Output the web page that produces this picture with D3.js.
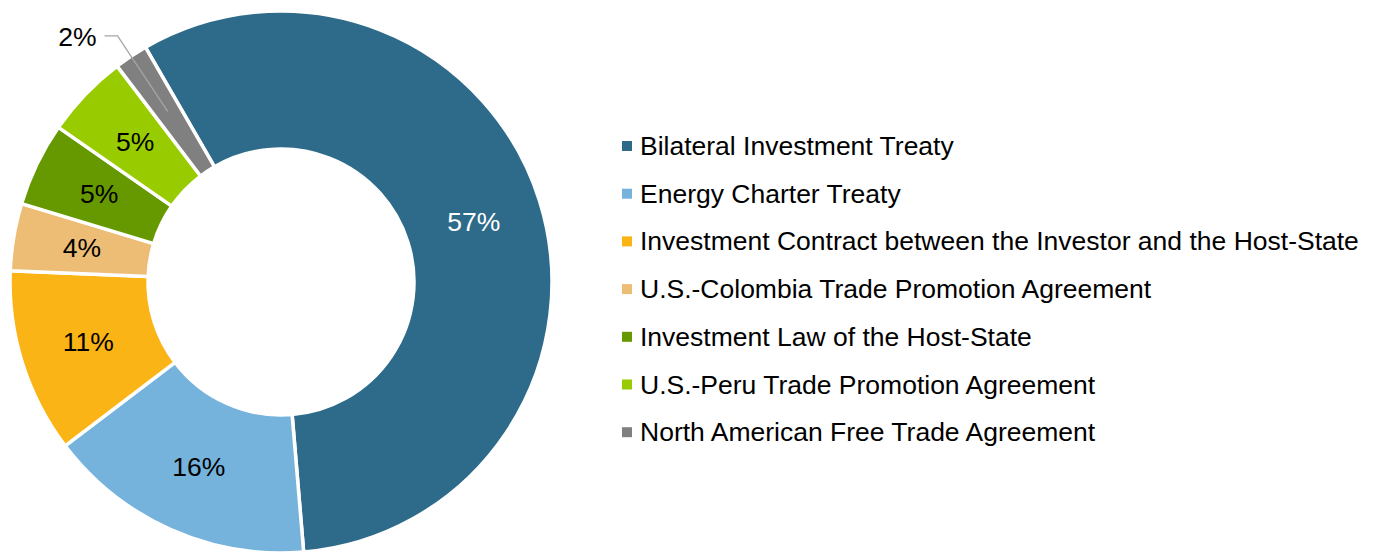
<!DOCTYPE html>
<html>
<head>
<meta charset="utf-8">
<script src="https://cdn.jsdelivr.net/npm/d3@7"></script>
<style>
  body { margin: 0; background: #fff; }
  svg { display: block; font-family: "Liberation Sans", Arial, sans-serif; }
</style>
</head>
<body>
<svg id="chart" width="1380" height="552"></svg>
<script>
// Agreement types and their shares (%)
const categories = [
    "Bilateral Investment Treaty",
    "Energy Charter Treaty",
    "Investment Contract between the Investor and the Host-State",
    "U.S.-Colombia Trade Promotion Agreement",
    "Investment Law of the Host-State",
    "U.S.-Peru Trade Promotion Agreement",
    "North American Free Trade Agreement",
];
const shares = [57, 16, 11, 4, 5, 5, 2];
const labels = ["57%", "16%", "11%", "4%", "5%", "5%", "2%"];
const colors = ["#2e6b8b", "#76b3dc", "#fbb415", "#edbd76", "#669900", "#99cc00", "#808080"];

const svg = d3.select("#chart");

const cx = 281, cy = 282;
const outerR = 271, innerR = 133;
const startAngle = -30 * Math.PI / 180; // first slice begins at 330°
const FONT_SIZE = 26.5;

const data = categories.map((name, i) => ({ name, value: shares[i], label: labels[i], color: colors[i] }));

const pie = d3.pie()
    .value((d) => d.value)
    .sort(null)
    .startAngle(startAngle)
    .endAngle(startAngle + 2 * Math.PI);

const arc = d3.arc().innerRadius(innerR).outerRadius(outerR);

const g = svg.append("g").attr("transform", `translate(${cx},${cy})`);
const arcs = pie(data);

g.selectAll("path")
    .data(arcs)
    .join("path")
    .attr("d", arc)
    .attr("fill", (d) => d.data.color)
    .attr("stroke", "#fff")
    .attr("stroke-width", 3.5)
    .attr("stroke-linejoin", "round");

// slice labels; the tiny slice gets an outside label with a leader line
arcs.forEach((d, i) => {
    const mid = (d.startAngle + d.endAngle) / 2;
    if (d.data.value < 3) {
        const pr = innerR + (outerR - innerR) * 0.52;
        const p0 = [pr * Math.sin(mid), -pr * Math.cos(mid)];
        const er = outerR * 1.09;
        const p1 = [er * Math.sin(mid), -er * Math.cos(mid)];
        const p2 = [p1[0] - 13, p1[1]];
        g.append("path")
            .attr("d", `M ${p0[0]} ${p0[1]} L ${p1[0]} ${p1[1]} L ${p2[0]} ${p2[1]}`)
            .attr("fill", "none")
            .attr("stroke", "#a6a6a6")
            .attr("stroke-width", 1.3);
        g.append("text")
            .attr("x", p2[0] - 8)
            .attr("y", p2[1] + 1)
            .attr("text-anchor", "end")
            .attr("dominant-baseline", "central")
            .attr("font-size", FONT_SIZE)
            .attr("fill", "#000")
            .text(d.data.label);
        return;
    }
    const c = arc.centroid(d);
    g.append("text")
        .attr("x", c[0])
        .attr("y", c[1])
        .attr("text-anchor", "middle")
        .attr("dominant-baseline", "central")
        .attr("font-size", FONT_SIZE)
        .attr("fill", i === 0 ? "#fff" : "#000")
        .text(d.data.label);
});

// Legend
const legendX = 622, legendY = 146, rowGap = 47.7;
const legend = svg.append("g");
data.forEach((d, i) => {
    const y = legendY + i * rowGap;
    legend.append("rect")
        .attr("x", legendX)
        .attr("y", y - 5)
        .attr("width", 10)
        .attr("height", 10)
        .attr("fill", d.color);
    legend.append("text")
        .attr("x", legendX + 18)
        .attr("y", y)
        .attr("dominant-baseline", "central")
        .attr("font-size", FONT_SIZE)
        .attr("fill", "#000")
        .text(d.name);
});
</script>
</body>
</html>
